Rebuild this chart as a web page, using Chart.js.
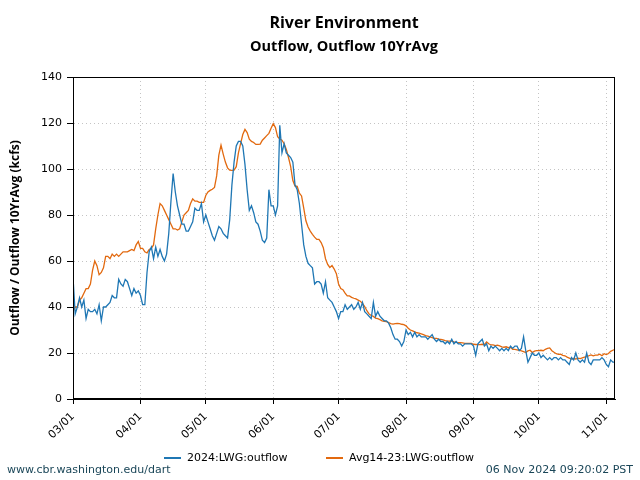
<!DOCTYPE html>
<html>
<head>
<meta charset="utf-8">
<script src="https://cdn.jsdelivr.net/npm/chart.js@4"></script>
<style>
  html, body { margin: 0; padding: 0; background: #fff; }
</style>
</head>
<body>
<canvas id="chart" width="640" height="480"></canvas>
<script>
// daily values, 2024-03-01 .. 2024-11-05 (kcfs)
const outflow2024 = [
  // Mar
  53, 37, 40, 44, 40, 43, 35, 39, 38, 38, 39, 37, 41, 34, 40, 40, 41, 42, 45, 44, 44, 52, 50, 49, 52, 51, 48, 45, 48, 46, 47,
  // Apr
  45, 41, 41, 55, 64, 66, 61, 66, 62, 65, 62, 60, 63, 72, 86, 98, 90, 84, 80, 76, 76, 73, 73, 75, 77, 83, 82, 82, 85, 77,
  // May
  80, 77, 74, 71, 69, 72, 75, 74, 72, 71, 70, 78, 93, 103, 110, 112, 112, 110, 102, 91, 82, 84, 81, 77, 76, 73, 69, 68, 70, 91, 84,
  // Jun
  84, 80, 84, 119, 107, 111, 107, 106, 105, 103, 93, 91, 85, 76, 67, 62, 59, 58, 57, 50, 51, 51, 50, 46, 51, 44, 43, 42, 40, 38,
  // Jul
  35, 38, 38, 41, 39, 40, 41, 39, 40, 42, 39, 42, 38, 37, 36, 35, 42, 36, 38, 36, 35, 34, 34, 33, 31, 28, 26, 26, 25, 23, 25,
  // Aug
  30, 28, 29, 27, 29, 27, 28, 27, 27, 27, 26, 27, 28, 26, 25, 26, 25, 25, 24, 25, 24, 26, 24, 25, 24, 24, 23, 24, 24, 24, 24,
  // Sep
  23, 19, 24, 25, 26, 23, 24, 21, 23, 22, 23, 22, 21, 22, 21, 22, 21, 23, 22, 23, 23, 21, 22, 27, 21, 16, 18, 20, 19, 19,
  // Oct
  20, 18, 19, 18, 17, 18, 17, 18, 18, 17, 18, 17, 17, 16, 15, 18, 17, 20, 17, 16, 17, 16, 20, 16, 15, 17, 17, 17, 17, 18, 17,
  // Nov
  15, 14, 17, 16, 16
];

const outflowAvg = [
  // Mar
  38, 40, 40, 43, 44, 46, 48, 48, 50, 56, 60, 58, 54, 55, 57, 62, 62, 61, 63, 62, 63, 62, 63, 64, 64, 64, 64.5, 65, 64.5, 67, 68.5,
  // Apr
  65.5, 65.5, 64, 63.5, 65, 65.5, 67, 74, 80, 85, 84, 82, 80, 78, 76, 74, 74, 73.5, 74, 77, 80, 81, 82, 85, 87, 86, 86, 85.5, 85.5, 85.5,
  // May
  88.5, 90, 90.7, 91.2, 92, 97, 106, 110.4, 106.5, 103, 100.5, 99.5, 99.4, 99.5, 101, 107, 111, 115, 117.2, 115.8, 113, 112, 111.5, 110.7, 110.7, 110.8, 112.5, 113.5, 114.5, 115.5, 117.7,
  // Jun
  119.7, 118, 114, 113, 112.5, 111, 108.5, 105, 101, 95, 92.6, 92.5, 89.5, 88.3, 83, 77.5, 74.8, 73, 71.6, 70.4, 69.4, 69.4, 68, 65.8, 61, 58.5, 57.2, 58, 56.5, 54.5,
  // Jul
  50, 48, 47.5, 46, 44.8, 44.8, 44.2, 43.8, 43.5, 43, 42.5, 41.6, 40.2, 38.4, 37, 36.3, 35.9, 35.2, 34.9, 34.5, 34, 33.8, 33.6, 33.2, 32.8, 32.6, 32.8, 32.9, 32.8, 32.5, 32.3,
  // Aug
  31.8, 30.8, 30, 29.6, 29.2, 28.8, 28.6, 28.3, 28, 27.6, 27.3, 27, 26.7, 26.4, 26.4, 26, 25.9, 25.7, 25.4, 25.2, 25.2, 25.2, 24.8, 24.6, 24.5, 24.5, 24.4, 24.2, 24.2, 24.2, 24.2,
  // Sep
  23.8, 23.7, 23.6, 23.6, 23.8, 23.6, 24.8, 24, 23.5, 23.5, 23.2, 23.4, 23.1, 22.7, 22.5, 22.7, 22.3, 22.5, 21.6, 21.6, 21.4, 21.2, 20.9, 20.6, 20.2, 20.9, 21.2, 20.2, 20.8, 21,
  // Oct
  21, 21.2, 21, 21.6, 22, 22.2, 21, 20.3, 19.7, 19.4, 19.5, 19, 18.8, 18.2, 17.8, 17.4, 17.6, 17.4, 17.8, 17.6, 17.9, 18.2, 18.4, 18.8, 19.2, 18.8, 19.1, 19.1, 19.5, 18.8, 19.7,
  // Nov
  19.3, 19.8, 20.7, 21.2, 21.6
];

// month starts as day offsets from 03/01
const monthTickDays = [0, 31, 61, 92, 122, 153, 184, 214, 245];
const monthTickLabels = ['03/01', '04/01', '05/01', '06/01', '07/01', '08/01', '09/01', '10/01', '11/01'];
const yTicks = [0, 20, 40, 60, 80, 100, 120, 140];

const seriesNames = ['2024:LWG:outflow', 'Avg14-23:LWG:outflow'];
const seriesColors = ['#1f77b4', '#e2690f'];

const chartTitle = 'River Environment';
const chartSubtitle = 'Outflow, Outflow 10YrAvg';
const yTitle = 'Outflow / Outflow 10YrAvg (kcfs)';
const footLeft = 'www.cbr.washington.edu/dart';
const footRight = '06 Nov 2024 09:20:02 PST';

const tickFont = { family: 'DejaVu Sans', size: 11 };
const gridColor = '#c4c4c4';

// titles, legend, footer and frame drawn on top of the chart
const decorations = {
    id: 'decorations',
    afterDraw(chart) {
        const ctx = chart.ctx;
        const a = chart.chartArea;
        const cx = (a.left + a.right) / 2;
        ctx.save();

        // frame around plot
        ctx.strokeStyle = '#000';
        ctx.lineWidth = 1;
        ctx.strokeRect(a.left + 0.5, a.top + 0.5, a.right - a.left - 1, a.bottom - a.top - 1);

        ctx.fillStyle = '#000';
        ctx.textAlign = 'center';
        ctx.textBaseline = 'middle';
        ctx.font = 'bold 16px "Open Sans"';
        ctx.fillText(chartTitle, cx, 23);
        ctx.font = 'bold 14.5px "Open Sans"';
        ctx.fillText(chartSubtitle, cx, 47);

        // y axis title
        ctx.save();
        ctx.translate(16, (a.top + a.bottom) / 2);
        ctx.rotate(-Math.PI / 2);
        ctx.font = 'bold 12px "Open Sans"';
        ctx.fillText(yTitle, 0, 0);
        ctx.restore();

        // legend
        const legendX = [164, 326];
        ctx.font = '11px "DejaVu Sans"';
        ctx.textAlign = 'left';
        seriesNames.forEach((name, i) => {
            ctx.strokeStyle = seriesColors[i];
            ctx.lineWidth = 2;
            ctx.beginPath();
            ctx.moveTo(legendX[i], 458);
            ctx.lineTo(legendX[i] + 17, 458);
            ctx.stroke();
            ctx.fillStyle = '#000';
            ctx.fillText(name, legendX[i] + 23, 458);
        });

        // footer
        ctx.fillStyle = '#1a4658';
        ctx.font = '11px "DejaVu Sans"';
        ctx.fillText(footLeft, 7, 470);
        ctx.textAlign = 'right';
        ctx.fillText(footRight, 633, 470);
        ctx.restore();
    }
};

const toPoints = arr => arr.map((v, i) => ({ x: i, y: v }));

new Chart(document.getElementById('chart').getContext('2d'), {
    type: 'line',
    data: {
        datasets: [
            {
                label: seriesNames[0],
                data: toPoints(outflow2024),
                borderColor: seriesColors[0],
                borderWidth: 1.3,
                pointRadius: 0,
                tension: 0
            },
            {
                label: seriesNames[1],
                data: toPoints(outflowAvg),
                borderColor: seriesColors[1],
                borderWidth: 1.3,
                pointRadius: 0,
                tension: 0
            }
        ]
    },
    options: {
        responsive: false,
        animation: false,
        events: [],
        layout: { padding: { top: 77, right: 25, left: 0, bottom: 0 } },
        plugins: {
            legend: { display: false },
            title: { display: false },
            tooltip: { enabled: false }
        },
        scales: {
            x: {
                type: 'linear',
                min: 0,
                max: outflow2024.length - 1,
                afterBuildTicks: scale => { scale.ticks = monthTickDays.map(v => ({ value: v })); },
                afterFit: scale => { scale.height = 81; },
                grid: { color: gridColor, tickColor: '#000', tickLength: 5 },
                border: { color: '#000', dash: [1, 3] },
                ticks: {
                    font: tickFont,
                    color: '#000',
                    autoSkip: false,
                    minRotation: 45,
                    maxRotation: 45,
                    padding: 6,
                    callback: v => monthTickLabels[monthTickDays.indexOf(v)]
                }
            },
            y: {
                min: 0,
                max: 140,
                afterBuildTicks: scale => { scale.ticks = yTicks.map(v => ({ value: v })); },
                afterFit: scale => { scale.width = 73; },
                grid: { color: gridColor, tickColor: '#000', tickLength: 6 },
                border: { color: '#000', dash: [1, 3] },
                ticks: { font: tickFont, color: '#000', padding: 5 }
            }
        }
    },
    plugins: [decorations]
});
</script>
</body>
</html>
